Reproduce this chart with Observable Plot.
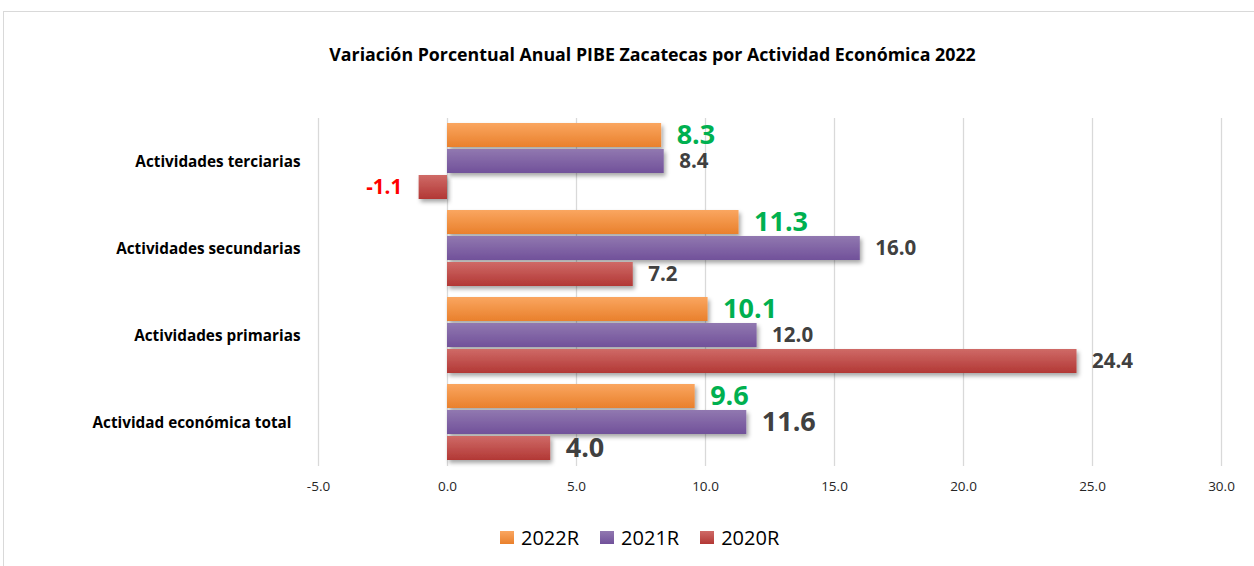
<!DOCTYPE html>
<html>
<head>
<meta charset="utf-8">
<script src="https://cdn.jsdelivr.net/npm/d3@7"></script>
<script src="https://cdn.jsdelivr.net/npm/@observablehq/plot@0.6"></script>
<style>
  html, body { margin: 0; padding: 0; background: #fff; }
  #wrap { position: relative; width: 1254px; height: 566px; overflow: hidden; font-family: "Open Sans", sans-serif; }
  #frame { position: absolute; left: 3px; top: 11px; width: 1300px; height: 600px; border-top: 1px solid #d9d9d9; border-left: 1px solid #d9d9d9; }
  #title { position: absolute; left: 0; width: 1305px; top: 42px; text-align: center; font-weight: 700; font-size: 17.8px; color: #000; }
  #chart { position: absolute; left: 0; top: 0; }
  #legend { position: absolute; left: 500px; top: 524px; display: flex; align-items: center; font-size: 20px; color: #000; }
  .item { display: flex; align-items: center; margin-right: 21px; }
  .sw { width: 14px; height: 13px; margin-right: 7px; }
</style>
</head>
<body>
<div id="wrap">
  <div id="frame"></div>
  <div id="chart"></div>
  <div id="title">Variación Porcentual Anual PIBE Zacatecas por Actividad Económica 2022</div>
  <div id="legend"></div>
</div>
<script>
const categories = ["Actividades terciarias", "Actividades secundarias", "Actividades primarias", "Actividad económica total"];
const series = ["2022R", "2021R", "2020R"];
const values2022R = [8.3, 11.3, 10.1, 9.6];
const values2021R = [8.4, 16.0, 12.0, 11.6];
const values2020R = [-1.1, 7.2, 24.4, 4.0];
const xTicks = [-5, 0, 5, 10, 15, 20, 25, 30];

const seriesValues = [values2022R, values2021R, values2020R];
const rows = [];
categories.forEach((c, i) => series.forEach((s, j) => rows.push({category: c, series: s, value: seriesValues[j][i]})));

const gradients = [
  ["#faa660", "#e9802c"],
  ["#9178b0", "#71519a"],
  ["#cf6a67", "#b23835"]
];
const fmt = d => d3.format(".1f")(d).replace("\u2212", "-");
const labelColor = d => d.series === "2022R" ? "#00b050" : (d.value < 0 ? "#ff0000" : "#404040");
const labelSize = d => (d.series === "2022R" || d.category === "Actividad económica total") ? 27 : 20.5;

const marks = [
  Plot.ruleX(xTicks, {stroke: "#d9d9d9", strokeWidth: 1.3})
];
series.forEach((s, j) => {
  marks.push(Plot.barX(rows.filter(d => d.series === s), {
    x1: 0, x2: "value", y: "series", fy: "category", fill: `url(#grad${j})`
  }));
});
marks.push(
  Plot.text(rows.filter(d => d.value >= 0), {
    x: "value", y: "series", fy: "category", text: d => fmt(d.value),
    textAnchor: "start", dx: 15, fill: labelColor, fontSize: labelSize, fontWeight: "bold"
  }),
  Plot.text(rows.filter(d => d.value < 0), {
    x: "value", y: "series", fy: "category", text: d => fmt(d.value),
    textAnchor: "end", dx: -17, fill: labelColor, fontSize: labelSize, fontWeight: "bold"
  }),
  Plot.text(categories, {
    fy: d => d, frameAnchor: "left", textAnchor: "end",
    text: d => d, fontWeight: "bold", fontSize: 15.3, fill: "#000"
  })
);

const chart = Plot.plot({
  width: 1254,
  height: 566,
  marginLeft: 318,
  marginRight: 33,
  marginTop: 117,
  marginBottom: 100,
  style: {fontFamily: "Open Sans, sans-serif", background: "transparent", overflow: "visible"},
  x: {domain: [-5, 30], ticks: xTicks, tickFormat: fmt, tickSize: 0, tickPadding: 15, label: null},
  y: {domain: series, axis: null, paddingInner: 0.07, paddingOuter: 0.2},
  fy: {domain: categories, axis: null, padding: 0},
  color: {type: "identity"},
  marks
});

// category labels offset to left of frame
chart.querySelectorAll("text").forEach(t => {
  if (categories.includes(t.textContent)) {
    t.setAttribute("dx", t.textContent === "Actividad económica total" ? -27 : -18);
  }
});
// x tick label style
const xAxis = chart.querySelector('[aria-label^="x-axis"]');
if (xAxis) { xAxis.setAttribute("font-size", 13.5); xAxis.setAttribute("fill", "#262626"); xAxis.querySelectorAll("text").forEach(t => t.setAttribute("fill", "#262626")); }

// gradients + shadow
const ns = "http://www.w3.org/2000/svg";
const defs = document.createElementNS(ns, "defs");
gradients.forEach((g, j) => {
  const lg = document.createElementNS(ns, "linearGradient");
  lg.setAttribute("id", `grad${j}`);
  lg.setAttribute("x1", 0); lg.setAttribute("y1", 0); lg.setAttribute("x2", 0); lg.setAttribute("y2", 1);
  g.forEach((c, k) => {
    const st = document.createElementNS(ns, "stop");
    st.setAttribute("offset", k === 0 ? "0%" : "100%");
    st.setAttribute("stop-color", c);
    lg.appendChild(st);
  });
  defs.appendChild(lg);
});
const filt = document.createElementNS(ns, "filter");
filt.setAttribute("id", "shadow");
filt.setAttribute("x", "-10%"); filt.setAttribute("y", "-30%"); filt.setAttribute("width", "130%"); filt.setAttribute("height", "180%");
const ds = document.createElementNS(ns, "feDropShadow");
ds.setAttribute("dx", 2); ds.setAttribute("dy", 3); ds.setAttribute("stdDeviation", 2);
ds.setAttribute("flood-color", "#000"); ds.setAttribute("flood-opacity", 0.35);
filt.appendChild(ds);
defs.appendChild(filt);
chart.insertBefore(defs, chart.firstChild);
chart.querySelectorAll('[aria-label="bar"] rect').forEach(r => r.setAttribute("filter", "url(#shadow)"));

document.getElementById("chart").appendChild(chart);

const legend = document.getElementById("legend");
series.forEach((s, j) => {
  const it = document.createElement("div");
  it.className = "item";
  const sw = document.createElement("div");
  sw.className = "sw";
  sw.style.background = `linear-gradient(${gradients[j][0]}, ${gradients[j][1]})`;
  const tx = document.createElement("span");
  tx.textContent = s;
  it.appendChild(sw); it.appendChild(tx);
  legend.appendChild(it);
});
</script>
</body>
</html>
